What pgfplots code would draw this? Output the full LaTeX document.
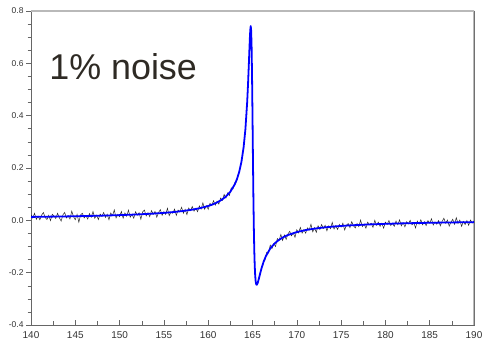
\documentclass[border=0pt]{standalone}
\usepackage{fontspec}
\setmainfont{Liberation Sans}
\usepackage{pgfplots}
\pgfplotsset{compat=1.18}
\definecolor{txt}{HTML}{2E2A24}
\definecolor{tick}{HTML}{333333}
\begin{document}
\begin{tikzpicture}
\begin{axis}[
  scale only axis,
  width=443bp, height=314bp,
  xmin=140, xmax=190, ymin=-0.4, ymax=0.8,
  xtick={140,145,...,190},
  minor x tick num=1,
  ytick={-0.4,-0.2,0,0.2,0.4,0.6,0.8},
  yticklabels={-0.4,-0.2,0.0,0.2,0.4,0.6,0.8},
  minor y tick num=3,
  /pgf/number format/assume math mode=true,
  x tick style={gray!80!black, line width=0.5pt},
  y tick style={gray!80!black, line width=0.5pt},
  major tick length=5bp, minor tick length=3.5bp,
  xtick pos=bottom, ytick pos=left,
  xtick align=inside, ytick align=outside,
  axis line style={gray!80!black, line width=0.6pt},
  xticklabel style={font=\fontsize{10}{11}\selectfont, text=tick, yshift=-3bp},
  yticklabel style={font=\fontsize{8.5}{9}\selectfont, text=tick, xshift=1bp},
  clip=true,
]
\coordinate (SW) at (rel axis cs:0,0);
\coordinate (NE) at (rel axis cs:1,1);
\draw[gray!55, line width=1.3pt] (rel axis cs:0,1) -- (rel axis cs:1,1) -- (rel axis cs:1,0);
% noisy data (black)
\addplot[black!85, line width=0.5pt] coordinates {
(140.0,0.021)(140.2,0.009)(140.4,0.027)(140.6,0.004)(140.8,0.016)(141.0,0.002)(141.2,0.020)(141.4,0.030)(141.6,0.011)(141.8,0.003)
(142.0,0.019)(142.2,-0.001)(142.4,0.023)(142.6,0.016)(142.8,0.007)(143.0,0.027)(143.2,0.010)(143.4,-0.003)(143.6,0.021)(143.8,0.030)
(144.0,0.009)(144.2,0.018)(144.4,0.005)(144.6,0.035)(144.8,0.014)(145.0,0.002)(145.2,0.023)(145.4,-0.007)(145.6,0.021)(145.8,0.027)
(146.0,0.009)(146.2,0.018)(146.4,0.005)(146.6,0.026)(146.8,0.012)(147.0,0.034)(147.2,0.008)(147.4,0.020)(147.6,0.003)(147.8,0.024)
(148.0,0.015)(148.2,0.030)(148.4,0.011)(148.6,0.023)(148.8,0.002)(149.0,0.028)(149.2,0.018)(149.4,0.040)(149.6,0.009)(149.8,0.023)
(150.0,0.014)(150.2,0.034)(150.4,0.008)(150.6,0.028)(150.8,0.016)(151.0,0.039)(151.2,0.012)(151.4,0.023)(151.6,0.008)(151.8,0.033)
(152.0,0.020)(152.2,0.029)(152.4,0.004)(152.6,0.032)(152.8,0.039)(153.0,0.017)(153.2,0.029)(153.4,0.014)(153.6,0.037)(153.8,0.023)
(154.0,0.034)(154.2,0.012)(154.4,0.030)(154.6,0.041)(154.8,0.019)(155.0,0.033)(155.2,0.023)(155.4,0.046)(155.6,0.018)(155.8,0.032)
(156.0,0.027)(156.2,0.043)(156.4,0.019)(156.6,0.039)(156.8,0.033)(157.0,0.050)(157.2,0.027)(157.4,0.042)(157.6,0.022)(157.8,0.047)
(158.0,0.037)(158.2,0.053)(158.4,0.035)(158.6,0.046)(158.8,0.033)(159.0,0.055)(159.2,0.043)(159.4,0.067)(159.6,0.042)(159.8,0.056)
(160.0,0.042)(160.2,0.065)(160.4,0.057)(160.6,0.075)(160.8,0.058)(161.0,0.073)(161.2,0.062)(161.4,0.085)(161.6,0.076)(161.8,0.099)
(162.0,0.085)(162.2,0.105)(162.4,0.095)(162.6,0.124)(162.8,0.120)(163.0,0.144)(163.2,0.147)(163.4,0.179)
};
\addplot[black!85, line width=0.5pt] coordinates {
(166.2,-0.157)(166.4,-0.153)(166.6,-0.122)(166.8,-0.125)(167.0,-0.095)(167.2,-0.108)(167.4,-0.089)(167.6,-0.100)(167.8,-0.070)
(168.0,-0.077)(168.2,-0.054)(168.4,-0.077)(168.6,-0.056)(168.8,-0.073)(169.0,-0.052)(169.2,-0.042)(169.4,-0.059)(169.6,-0.048)(169.8,-0.065)
(170.0,-0.036)(170.2,-0.048)(170.4,-0.027)(170.6,-0.049)(170.8,-0.036)(171.0,-0.049)(171.2,-0.029)(171.4,-0.037)(171.6,-0.015)(171.8,-0.044)
(172.0,-0.028)(172.2,-0.046)(172.4,-0.021)(172.6,-0.035)(172.8,-0.016)(173.0,-0.031)(173.2,-0.019)(173.4,-0.040)(173.6,-0.021)(173.8,-0.032)
(174.0,-0.008)(174.2,-0.033)(174.4,-0.020)(174.6,-0.035)(174.8,-0.016)(175.0,-0.026)(175.2,-0.011)(175.4,-0.037)(175.6,-0.019)(175.8,-0.012)
(176.0,-0.028)(176.2,-0.005)(176.4,-0.021)(176.6,-0.029)(176.8,-0.012)(177.0,-0.024)(177.2,0.001)(177.4,-0.024)(177.6,-0.014)(177.8,-0.030)
(178.0,-0.007)(178.2,-0.017)(178.4,-0.011)(178.6,-0.027)(178.8,0.000)(179.0,-0.019)(179.2,-0.007)(179.4,-0.023)(179.6,-0.011)(179.8,-0.030)
(180.0,-0.007)(180.2,-0.016)(180.4,-0.001)(180.6,-0.020)(180.8,-0.011)(181.0,-0.023)(181.2,-0.003)(181.4,-0.017)(181.6,0.002)(181.8,-0.021)
(182.0,-0.009)(182.2,-0.025)(182.4,-0.005)(182.6,-0.014)(182.8,0.000)(183.0,-0.017)(183.2,-0.009)(183.4,-0.029)(183.6,-0.003)(183.8,-0.015)
(184.0,0.002)(184.2,-0.017)(184.4,-0.005)(184.6,-0.020)(184.8,-0.001)(185.0,-0.011)(185.2,0.006)(185.4,-0.018)(185.6,-0.006)(185.8,-0.015)
(186.0,-0.001)(186.2,-0.021)(186.4,-0.004)(186.6,0.008)(186.8,-0.011)(187.0,0.001)(187.2,-0.022)(187.4,-0.007)(187.6,0.004)(187.8,-0.015)
(188.0,0.010)(188.2,-0.012)(188.4,0.001)(188.6,-0.023)(188.8,-0.004)(189.0,-0.016)(189.2,-0.001)(189.4,-0.019)(189.6,0.001)(189.8,-0.010)
(190.0,-0.002)
};
% fit (blue)
\addplot[blue, line width=1.8pt, line join=round] coordinates {
(140,0.0131)(142,0.0140)(144,0.0150)(146,0.0163)(148,0.0179)(150,0.0199)(152,0.0225)(154,0.0261)(155,0.0285)
(156,0.0314)(157,0.0350)(158,0.0397)(159,0.0459)(160,0.0548)(160.5,0.0607)(161,0.0683)(161.5,0.0780)(162,0.0910)
(162.5,0.1095)(163,0.1376)(163.25,0.1579)(163.5,0.1851)(163.75,0.2233)(164,0.2799)(164.2,0.3483)(164.4,0.4522)
(164.5,0.5233)(164.6,0.6077)(164.7,0.6946)(164.75,0.7280)(164.8,0.7424)(164.85,0.7245)(164.9,0.6615)(164.95,0.5494)
(165.0,0.4002)(165.05,0.2390)(165.1,0.0916)(165.15,-0.0269)(165.2,-0.1133)(165.25,-0.1717)(165.3,-0.2088)
(165.35,-0.2305)(165.4,-0.2418)(165.45,-0.2461)(165.5,-0.2459)(165.6,-0.2379)(165.7,-0.2253)(165.8,-0.2116)
(166.0,-0.1855)(166.25,-0.1586)(166.5,-0.1376)(167,-0.1078)(167.5,-0.0881)(168,-0.0743)(168.5,-0.0640)(169,-0.0562)
(170,-0.0449)(171,-0.0372)(172,-0.0317)(173,-0.0275)(174,-0.0241)(175,-0.0215)(176,-0.0193)(178,-0.0159)
(180,-0.0134)(182,-0.0115)(184,-0.0100)(186,-0.0088)(188,-0.0078)(190,-0.0069)
};
\node[anchor=base west, inner sep=0pt, text=txt, font=\fontsize{36}{36}\selectfont] at (rel axis cs:0.041,0.7825) {1\% noise};
\end{axis}
\pgfresetboundingbox
\path ([shift={(-31bp,-19bp)}]SW) rectangle ([shift={(9bp,11bp)}]NE);
\end{tikzpicture}
\end{document}
